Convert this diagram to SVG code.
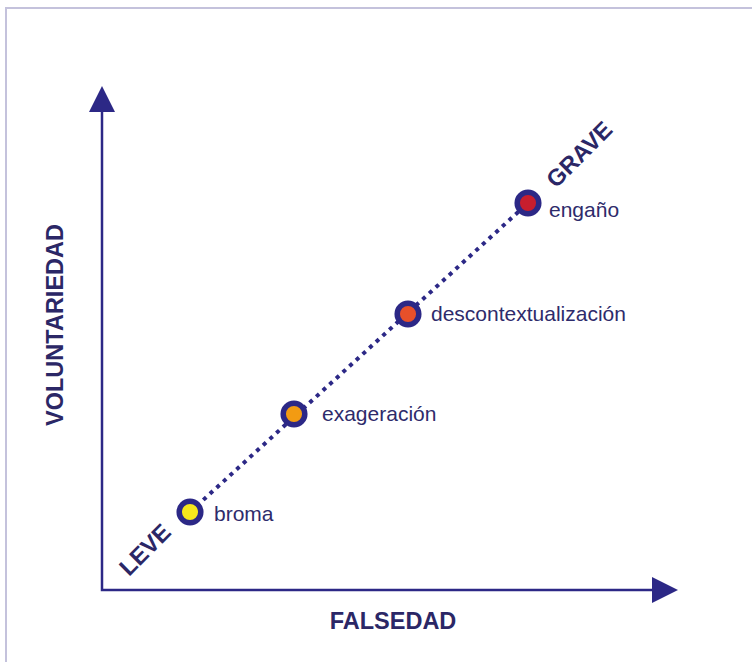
<svg xmlns="http://www.w3.org/2000/svg" width="752" height="662" viewBox="0 0 752 662">
<style>
.lbl{font-family:"Liberation Sans",Arial,sans-serif;font-size:21px;fill:#2e2b6b}
.ax{font-family:"Liberation Sans",Arial,sans-serif;font-size:23.5px;font-weight:bold;fill:#2b2766}
.ring{stroke:#2c2886;stroke-width:5.5}
.axis{stroke:#2c2886;stroke-width:2.5;fill:none}
</style>
<rect width="752" height="662" fill="#ffffff"/>
<rect x="6" y="8" width="760" height="670" fill="none" stroke="#c4c2dc" stroke-width="2"/>
<g id="axes">
<path class="axis" d="M102 110 V590 H655"/>
<polygon points="102,86 89,112 115,112" fill="#2c2886"/>
<polygon points="678,590 652,577 652,603" fill="#2c2886"/>
</g>
<g id="connectors">
<line x1="190" y1="512" x2="528" y2="203" stroke="#2c2886" stroke-width="4" stroke-dasharray="4 5"/>
</g>
<g id="broma"><circle class="ring" cx="190" cy="512" r="10.8" fill="#f6e71c"/><text class="lbl" x="214" y="521">broma</text></g>
<g id="exageracion"><circle class="ring" cx="294" cy="414" r="10.8" fill="#f39b12"/><text class="lbl" x="322" y="421">exageración</text></g>
<g id="descontextualizacion"><circle class="ring" cx="408" cy="314" r="10.8" fill="#e8502a"/><text class="lbl" x="431" y="321">descontextualización</text></g>
<g id="engano"><circle class="ring" cx="528" cy="203" r="10.8" fill="#c81e2e"/><text class="lbl" x="549" y="217">engaño</text></g>
<text class="ax" x="393" y="629" text-anchor="middle">FALSEDAD</text>
<text class="ax" transform="translate(63,325) rotate(-90)" text-anchor="middle">VOLUNTARIEDAD</text>
<text class="ax" transform="translate(129,577) rotate(-45)">LEVE</text>
<text class="ax" transform="translate(556,189) rotate(-45)">GRAVE</text>
</svg>
